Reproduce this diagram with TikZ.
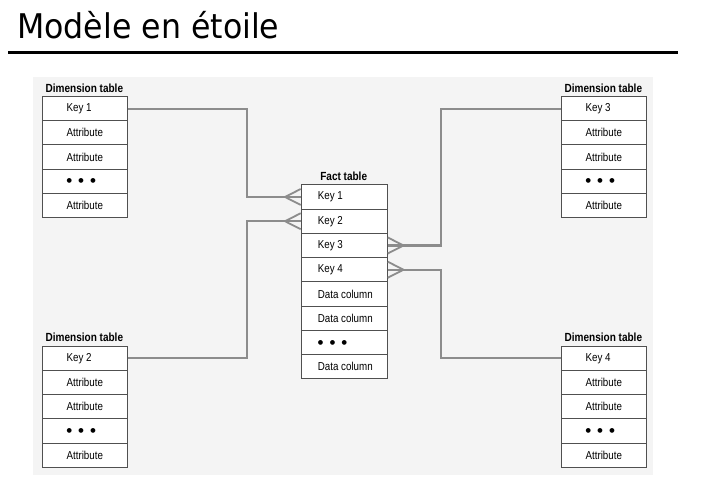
\documentclass[tikz,border=0pt]{standalone}
\usepackage{fontspec}
\setmainfont{Liberation Sans}
\newfontfamily\titlefont[FakeStretch=0.93]{DejaVu Sans}
\newfontfamily\cellfont[FakeStretch=0.85]{Liberation Sans}
\newfontfamily\symfont{DejaVu Sans}
\usetikzlibrary{calc}
\definecolor{panelcol}{HTML}{F4F4F4}
\definecolor{bordercol}{HTML}{505050}
\definecolor{conncol}{HTML}{8C8C8C}
\newcommand{\dtxt}[1]{\makebox[36.7pt][l]{#1}}
\newcommand{\ftxt}[1]{\makebox[52.8pt][l]{#1}}
\newcommand{\ddd}{{\symfont\fontsize{6.2}{6.2}\selectfont \raisebox{0.6pt}{●\hspace{6.5pt}●\hspace{6.5pt}●}}}
\newcommand{\dimtable}[4]{%
  \node[header] (#1h) at (#2+42.65,#3-8) {Dimension table};
  \foreach \t [count=\i from 0] in {#4,Attribute,Attribute,\ddd,Attribute}
    \node[dimcell] (#1r\i) at (#2,#3+24.2*\i) {\dtxt{\t}};
}
\begin{document}
\begin{tikzpicture}[x=1pt,y=-1pt,
  dimcell/.style={draw=bordercol, line width=1.1pt, fill=white,
    minimum width=85.3pt, minimum height=24.2pt, inner sep=0pt,
    font=\cellfont\fontsize{11.5}{11.5}\selectfont, anchor=north west},
  factcell/.style={dimcell, minimum width=86pt, minimum height=24.25pt},
  header/.style={font=\cellfont\bfseries\fontsize{11.8}{12}\selectfont, inner sep=0pt},
  connector/.style={draw=conncol, line width=2.2pt},
  crow/.style={draw=conncol, line width=1.8pt}]
\useasboundingbox (0,0) rectangle (706,489);
\fill[white] (0,0) rectangle (706,489);
% title
\node[anchor=base west, inner sep=0pt, font=\titlefont\fontsize{34}{34}\selectfont] (title) at (17,39) {Modèle en étoile};
\draw[line width=3pt] (8,52.7) -- (678,52.7);
% panel
\fill[panelcol] (33,77) rectangle (653,475);
% dimension tables
\dimtable{d1}{41.7}{96}{Key 1}
\dimtable{d2}{41.7}{345.7}{Key 2}
\dimtable{d3}{560.7}{96}{Key 3}
\dimtable{d4}{560.7}{345.7}{Key 4}
% fact table
\node[header] (fh) at (343.7,176.7) {Fact table};
\foreach \t [count=\i from 0] in {Key 1,Key 2,Key 3,Key 4,Data column,Data column,\ddd,Data column}
  \node[factcell] (f\i) at (300.7,184.3+24.25*\i) {\ftxt{\t}};
% connectors
\coordinate (jl) at (247.3,0);
\coordinate (jr) at (440.7,0);
\draw[connector] (d1r0.east) -- (d1r0.east -| jl) -- (jl |- f0.west) -- (f0.west);
\draw[connector] (d2r0.east) -- (d2r0.east -| jl) -- (jl |- f1.west) -- (f1.west);
\draw[connector] (f2.east) -- (f2.east -| jr) -- (jr |- d3r0.west) -- (d3r0.west);
\draw[connector] (f3.east) -- (f3.east -| jr) -- (jr |- d4r0.west) -- (d4r0.west);
% crow's feet
\foreach \n/\s in {f0.west/-1,f1.west/-1,f2.east/1,f3.east/1}{
  \draw[crow] ($(\n)+(\s*15.7,0)$) -- ($(\n)+(0,8)$)
              ($(\n)+(\s*15.7,0)$) -- ($(\n)+(0,-8)$);
}
\end{tikzpicture}
\end{document}
